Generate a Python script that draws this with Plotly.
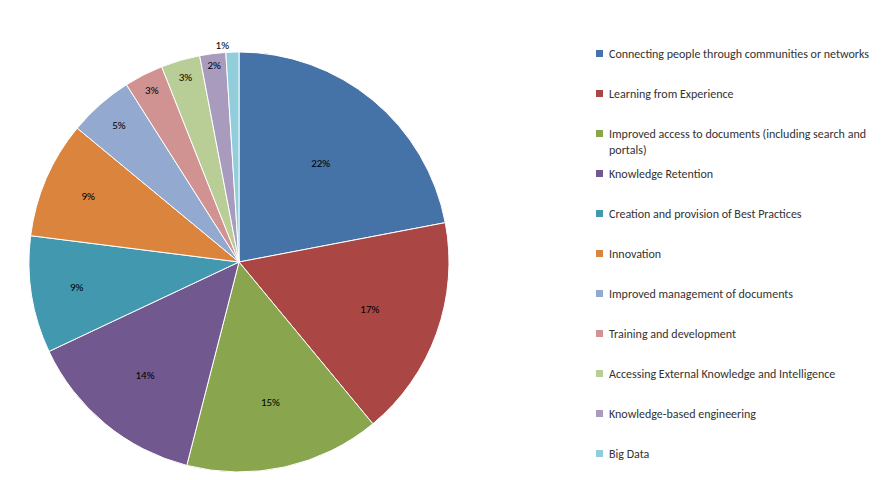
import plotly.graph_objects as go

labels = ["Connecting people through communities or networks", "Learning from Experience",
          "Improved access to documents (including search and<br>portals)", "Knowledge Retention",
          "Creation and provision of Best Practices", "Innovation", "Improved management of documents",
          "Training and development", "Accessing External Knowledge and Intelligence",
          "Knowledge-based engineering", "Big Data"]
values = [22, 17, 15, 14, 9, 9, 5, 3, 3, 2, 1]
colors = ["#4572A7", "#AA4643", "#89A54E", "#71588F", "#4198AF", "#DB843D",
          "#93A9CF", "#D19392", "#B9CD96", "#A99BBD", "#92CDDC"]

W, H = 895, 480
fig = go.Figure(go.Pie(
    labels=labels, values=values, sort=False, direction="clockwise", rotation=0,
    marker=dict(colors=colors, line=dict(color="white", width=1)),
    texttemplate="%{value}%", textfont=dict(family="Calibri, Liberation Sans, sans-serif", size=11, color="black"),
    textposition=["inside"] * 10 + ["outside"], insidetextorientation="horizontal",
    showlegend=False, hoverinfo="label+percent",
    domain=dict(x=[21 / W, 441 / W], y=[1 - 464 / H, 1 - 44 / H]),
))

shapes, annos = [], []
for i, (lab, col) in enumerate(zip(labels, colors)):
    y = 45 + 40 * i
    shapes.append(dict(type="rect", xref="paper", yref="paper",
                       x0=588 / W, x1=595 / W, y0=1 - (y + 4) / H, y1=1 - (y - 3) / H,
                       fillcolor=col, line_width=0))
    annos.append(dict(xref="paper", yref="paper", x=599 / W, y=1 - (y - 8) / H,
                      xanchor="left", yanchor="top", align="left", showarrow=False,
                      text=lab, font=dict(family="Calibri, Liberation Sans, sans-serif", size=12, color="#333")))

fig.update_layout(width=W, height=H, margin=dict(l=0, r=0, t=0, b=0),
                  paper_bgcolor="white", shapes=shapes, annotations=annos)
fig.write_html("out.html")
